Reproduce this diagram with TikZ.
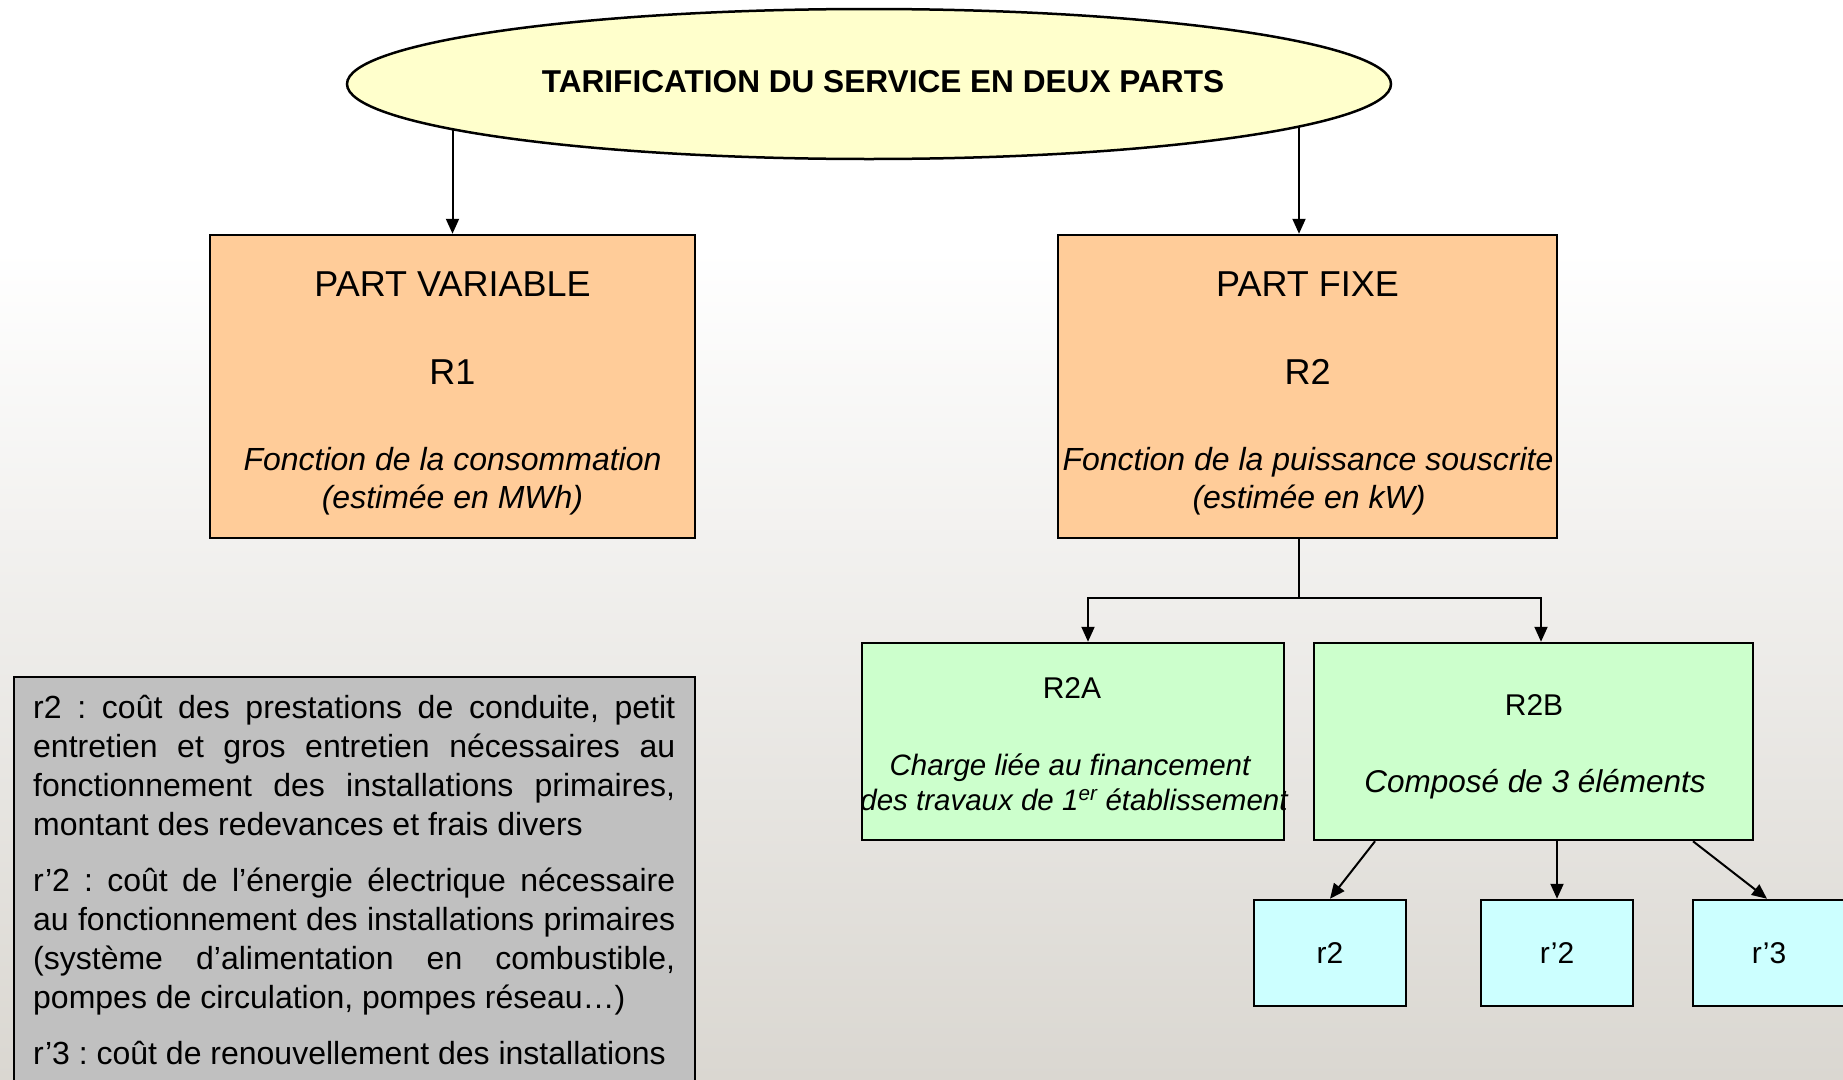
\documentclass[tikz,border=0pt]{standalone}
\usepackage{fontspec}
\setmainfont{Liberation Sans}
\usetikzlibrary{shapes.geometric,arrows.meta,backgrounds}
\definecolor{ellfill}{RGB}{255,255,204}
\definecolor{orfill}{RGB}{255,204,153}
\definecolor{grfill}{RGB}{204,255,204}
\definecolor{cyfill}{RGB}{204,255,255}
\definecolor{notefill}{RGB}{192,192,192}
\definecolor{bgbot}{RGB}{218,215,209}
\newcommand\fsz[1]{\fontsize{#1pt}{#1pt}\selectfont}
\frenchspacing
\begin{document}
\begin{tikzpicture}[x=1pt,y=-1pt,
  boxst/.style={draw=black,line width=2.5pt,rectangle,inner sep=0pt},
  txt/.style={inner sep=0pt,anchor=base,font={\fsz{36}}},
  itx/.style={inner sep=0pt,anchor=base,font={\fsz{32}\itshape}},
  stxt/.style={inner sep=0pt,anchor=base,font={\fsz{30}}},
  notetx/.style={inner sep=0pt,anchor=base west,font={\fsz{32}}},
  conn/.style={line width=2pt},
  arr/.style={line width=2pt,-{Triangle[length=15pt,width=13pt]}}]
\useasboundingbox (0,0) rectangle (1843,1079);
\clip (0,0) rectangle (1843,1079);
% title
\node[ellipse,draw=black,line width=2.5pt,fill=ellfill,minimum width=1044pt,minimum height=150pt,inner sep=0pt] (title) at (869,84) {};
\node[inner sep=0pt,font={\fsz{31.6}\bfseries}] (ttext) at (883,82) {TARIFICATION DU SERVICE EN DEUX PARTS};
% part variable
\node[boxst,fill=orfill,minimum width=485pt,minimum height=303pt] (pv) at (452.5,386.5) {};
\node[txt] (pv1) at (452.5,296) {PART VARIABLE};
\node[txt] (pv2) at (452.5,384) {R1};
\node[itx] (pv3) at (452.5,470) {Fonction de la consommation};
\node[itx] (pv4) at (452.5,508) {(estimée en MWh)};
% part fixe
\node[boxst,fill=orfill,minimum width=499pt,minimum height=303pt] (pf) at (1307.5,386.5) {};
\node[txt] (pf1) at (1307.5,296) {PART FIXE};
\node[txt] (pf2) at (1307.5,384) {R2};
\node[itx] (pf3) at (1308,470) {Fonction de la puissance souscrite};
\node[itx] (pf4) at (1309,508) {(estimée en kW)};
% R2A
\node[boxst,fill=grfill,minimum width=422pt,minimum height=197pt] (r2a) at (1073,741.5) {};
\node[stxt] (r2a1) at (1072,698) {R2A};
\node[stxt,font={\fsz{29.5}\itshape}] (r2a2) at (1070,775) {Charge liée au financement};
\node[stxt,font={\fsz{29.5}\itshape}] (r2a3) at (1074,810) {des travaux de 1\textsuperscript{er} établissement};
% R2B
\node[boxst,fill=grfill,minimum width=439pt,minimum height=197pt] (r2b) at (1533.5,741.5) {};
\node[stxt] (r2b1) at (1534,715) {R2B};
\node[stxt,font={\fsz{31.5}\itshape}] (r2b2) at (1535,792) {Composé de 3 éléments};
% small boxes
\node[boxst,fill=cyfill,minimum width=152pt,minimum height=106pt,font={\fsz{30}}] (sr2) at (1330,953) {r2};
\node[boxst,fill=cyfill,minimum width=152pt,minimum height=106pt,font={\fsz{30}}] (sr2p) at (1557,953) {r’2};
\node[boxst,fill=cyfill,minimum width=152pt,minimum height=106pt,font={\fsz{30}}] (sr3p) at (1769,953) {r’3};
% note
\node[boxst,fill=notefill,minimum width=681pt,minimum height=418pt] (note) at (354.5,886) {};
\node[notetx] (n1) at (33,718) {\makebox[642pt][s]{r2 : coût des prestations de conduite, petit}};
\node[notetx] (n2) at (33,757) {\makebox[642pt][s]{entretien et gros entretien nécessaires au}};
\node[notetx] (n3) at (33,796) {\makebox[642pt][s]{fonctionnement des installations primaires,}};
\node[notetx] (n4) at (33,835) {montant des redevances et frais divers};
\node[notetx] (n5) at (33,891) {\makebox[642pt][s]{r’2 : coût de l’énergie électrique nécessaire}};
\node[notetx] (n6) at (33,930) {\makebox[642pt][s]{au fonctionnement des installations primaires}};
\node[notetx] (n7) at (33,969) {\makebox[642pt][s]{(système d’alimentation en combustible,}};
\node[notetx] (n8) at (33,1008) {pompes de circulation, pompes réseau…)};
\node[notetx] (n9) at (33,1064) {r’3 : coût de renouvellement des installations};
% background and connectors
\begin{scope}[on background layer]
\fill[white] (0,0) rectangle (1843,250);
\shade[top color=white,bottom color=bgbot] (0,250) rectangle (1843,1079);
\draw[arr] (pv.north |- title.center) -- (pv.north);
\coordinate (pfin) at ([xshift=-8.5pt]pf.north);
\draw[arr] (pfin |- title.center) -- (pfin);
\coordinate (pfout) at ([xshift=-8.5pt]pf.south);
\coordinate (jn) at (1299,598);
\draw[conn] (pfout) -- (jn);
\draw[arr] (jn) -| ([xshift=15pt]r2a.north);
\draw[arr] (jn) -| ([xshift=7.5pt]r2b.north);
\draw[arr] ([xshift=-158.5pt]r2b.south) -- (sr2.north);
\draw[arr] (sr2p.north |- r2b.south) -- (sr2p.north);
\draw[arr] ([xshift=159.5pt]r2b.south) -- ([xshift=-2pt]sr3p.north);
\end{scope}
\end{tikzpicture}
\end{document}
